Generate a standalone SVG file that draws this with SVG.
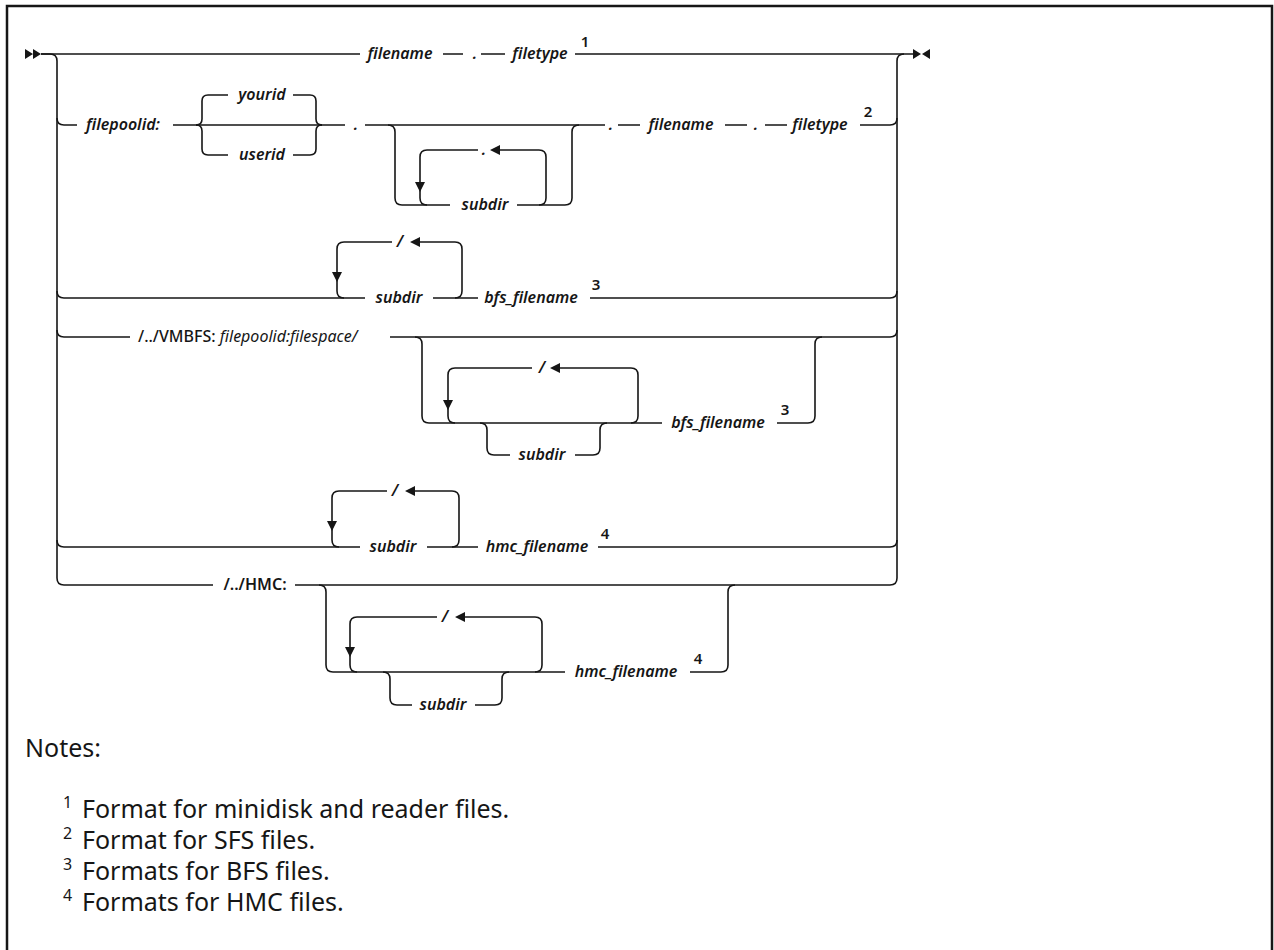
<svg xmlns="http://www.w3.org/2000/svg" width="1274" height="950" viewBox="0 0 1274 950">
<style>
.ln{fill:none;stroke:#161616;stroke-width:1.6}
.ar{fill:#161616;stroke:none}
.lb{font-family:"Noto Sans","Open Sans",sans-serif;font-style:italic;font-weight:600;font-size:16px;fill:#161616}
.up{font-style:normal}
.md{font-weight:500}
.lt{font-weight:400}
.sp{font-family:"Noto Sans","Open Sans",sans-serif;font-weight:600;font-size:15px;fill:#161616}
.nt{font-family:"Noto Sans","Open Sans",sans-serif;font-size:25px;fill:#161616}
.ns{font-family:"Noto Sans","Open Sans",sans-serif;font-size:16px;fill:#161616}
</style>
<rect x="0" y="0" width="1274" height="950" fill="#ffffff"/>
<rect x="7" y="6" width="1265" height="960" fill="none" stroke="#161616" stroke-width="2.5"/>
<g id="connectors">
<path class="ar" d="M25,49 L33,54 L25,59 Z M33,49 L41,54 L33,59 Z"/>
<path class="ar" d="M913,49 L921,54 L913,59 Z M930,49 L922,54 L930,59 Z"/>
<path class="ln" d="M41,54 H50 Q57,54 57,61 V578 Q57,585 64,585"/>
<path class="ln" d="M57,118 Q57,125 64,125 M57,291 Q57,298 64,298 M57,330 Q57,337 64,337 M57,540 Q57,547 64,547"/>
<path class="ln" d="M897,578 V61 Q897,54 904,54"/>
<path class="ln" d="M890,125 Q897,125 897,118 M890,298 Q897,298 897,291 M890,337 Q897,337 897,330 M890,547 Q897,547 897,540 M890,585 Q897,585 897,578"/>
<path class="ln" d="M41,54 H360 M443,54 H463 M481,54 H505 M575,54 H913"/>
<path class="ln" d="M64,125 H77 M173,125 H345 M365,125 H605 M618,125 H640 M725,125 H747 M765,125 H787 M860,125 H890"/>
<path class="ln" d="M196,125 Q202,125 202,119 V101 Q202,95 208,95 H228 M293,95 H310 Q316,95 316,101 V119 Q316,125 322,125"/>
<path class="ln" d="M196,125 Q202,125 202,131 V149 Q202,155 208,155 H228 M293,155 H310 Q316,155 316,149 V131 Q316,125 322,125"/>
<path class="ln" d="M388,125 Q395,125 395,132 V198 Q395,205 402,205 H450 M517,205 H565 Q572,205 572,198 V132 Q572,125 579,125"/>
<path class="ln" d="M427,205 Q420,205 420,198 V157 Q420,150 427,150 H478 M500,150 H539 Q546,150 546,157 V198 Q546,205 539,205"/>
<path class="ar" d="M415,182 L425,182 L420,192 Z M490,150 L500,145 L500,155 Z"/>
<path class="ln" d="M64,298 H365 M433,298 H478 M590,298 H890"/>
<path class="ln" d="M344,298 Q337,298 337,291 V249 Q337,242 344,242 H392 M420,242 H455 Q462,242 462,249 V291 Q462,298 455,298"/>
<path class="ar" d="M332,272 L342,272 L337,282 Z M410,242 L420,237 L420,247 Z"/>
<path class="ln" d="M64,337 H130 M390,337 H890"/>
<path class="ln" d="M415,337 Q422,337 422,344 V416 Q422,423 429,423 H662"/>
<path class="ln" d="M455,423 Q448,423 448,416 V375 Q448,368 455,368 H532 M560,368 H631 Q638,368 638,375 V416 Q638,423 631,423"/>
<path class="ln" d="M480,423 Q487,423 487,430 V448 Q487,455 494,455 H510 M575,455 H593 Q600,455 600,448 V430 Q600,423 607,423"/>
<path class="ln" d="M777,423 H808 Q815,423 815,416 V344 Q815,337 822,337"/>
<path class="ar" d="M443,400 L453,400 L448,410 Z M550,368 L560,363 L560,373 Z"/>
<path class="ln" d="M64,547 H360 M427,547 H478 M598,547 H890"/>
<path class="ln" d="M339,547 Q332,547 332,540 V498 Q332,491 339,491 H387 M415,491 H452 Q459,491 459,498 V540 Q459,547 452,547"/>
<path class="ar" d="M327,521 L337,521 L332,531 Z M405,491 L415,486 L415,496 Z"/>
<path class="ln" d="M64,585 H213 M295,585 H890"/>
<path class="ln" d="M319,585 Q326,585 326,592 V665 Q326,672 333,672 H565"/>
<path class="ln" d="M357,672 Q350,672 350,665 V624 Q350,617 357,617 H437 M465,617 H535 Q542,617 542,624 V665 Q542,672 535,672"/>
<path class="ln" d="M383,672 Q390,672 390,679 V698 Q390,705 397,705 H412 M475,705 H495 Q502,705 502,698 V679 Q502,672 509,672"/>
<path class="ln" d="M690,672 H721 Q728,672 728,665 V592 Q728,585 735,585"/>
<path class="ar" d="M345,647 L355,647 L350,657 Z M455,617 L465,612 L465,622 Z"/>
</g>
<g id="row0">
<text class="lb" x="400" y="59" text-anchor="middle">filename</text>
<text class="lb" x="475" y="59" text-anchor="middle">.</text>
<text class="lb" x="540" y="59" text-anchor="middle">filetype</text>
<text class="sp" x="585" y="47" text-anchor="middle">1</text>
</g>
<g id="row1">
<text class="lb" x="123" y="130" text-anchor="middle">filepoolid:</text>
<text class="lb" x="262" y="100" text-anchor="middle">yourid</text>
<text class="lb" x="262" y="160" text-anchor="middle">userid</text>
<text class="lb" x="356" y="130" text-anchor="middle">.</text>
<text class="lb" x="484" y="155" text-anchor="middle">.</text>
<text class="lb" x="485" y="210" text-anchor="middle">subdir</text>
<text class="lb" x="611" y="130" text-anchor="middle">.</text>
<text class="lb" x="681" y="130" text-anchor="middle">filename</text>
<text class="lb" x="756" y="130" text-anchor="middle">.</text>
<text class="lb" x="820" y="130" text-anchor="middle">filetype</text>
<text class="sp" x="868" y="117" text-anchor="middle">2</text>
</g>
<g id="row2">
<text class="lb" x="400" y="247" text-anchor="middle">/</text>
<text class="lb" x="399" y="303" text-anchor="middle">subdir</text>
<text class="lb" x="531" y="303" text-anchor="middle">bfs_filename</text>
<text class="sp" x="596" y="290" text-anchor="middle">3</text>
</g>
<g id="row3">
<text class="lb" x="138" y="342"><tspan class="up md">/../VMBFS: </tspan><tspan class="lt">filepoolid:filespace/</tspan></text>
<text class="lb" x="542" y="373" text-anchor="middle">/</text>
<text class="lb" x="542" y="460" text-anchor="middle">subdir</text>
<text class="lb" x="718" y="428" text-anchor="middle">bfs_filename</text>
<text class="sp" x="785" y="415" text-anchor="middle">3</text>
</g>
<g id="row4">
<text class="lb" x="395" y="496" text-anchor="middle">/</text>
<text class="lb" x="393" y="552" text-anchor="middle">subdir</text>
<text class="lb" x="537" y="552" text-anchor="middle">hmc_filename</text>
<text class="sp" x="605" y="539" text-anchor="middle">4</text>
</g>
<g id="row5">
<text class="lb up" x="255" y="590" text-anchor="middle">/../HMC:</text>
<text class="lb" x="445" y="622" text-anchor="middle">/</text>
<text class="lb" x="443" y="710" text-anchor="middle">subdir</text>
<text class="lb" x="626" y="677" text-anchor="middle">hmc_filename</text>
<text class="sp" x="698" y="664" text-anchor="middle">4</text>
</g>
<g id="notes">
<text class="nt" x="25" y="757">Notes:</text>
<text class="ns" x="63" y="808">1</text><text class="nt" x="82" y="818">Format for minidisk and reader files.</text>
<text class="ns" x="63" y="839">2</text><text class="nt" x="82" y="849">Format for SFS files.</text>
<text class="ns" x="63" y="870">3</text><text class="nt" x="82" y="880">Formats for BFS files.</text>
<text class="ns" x="63" y="901">4</text><text class="nt" x="82" y="911">Formats for HMC files.</text>
</g>
</svg>
